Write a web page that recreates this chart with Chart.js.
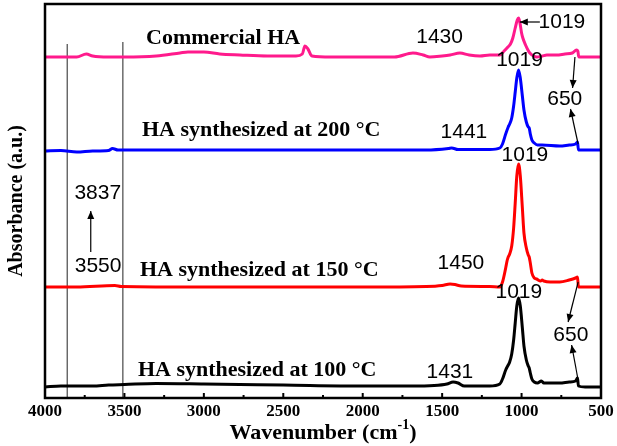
<!DOCTYPE html>
<html>
<head>
<meta charset="utf-8">
<script src="https://cdn.jsdelivr.net/npm/chart.js@4/dist/chart.umd.min.js"></script>
<style>
  html, body { margin: 0; padding: 0; background: #fff; }
  #wrap { width: 617px; height: 446px; }
</style>
</head>
<body>
<div id="wrap"><canvas id="ftirChart" width="617" height="446"></canvas></div>
<script>
// FTIR spectra, [wavenumber cm-1, absorbance a.u. (offset stacked)]
const ha100 = [
  [4000, 11], [3900, 12], [3800, 12], [3700, 12], [3600, 13], [3500, 13.5], [3300, 14.5],
  [3000, 14], [2500, 13], [2000, 12], [1700, 12], [1550, 12.5], [1470, 14], [1431, 16],
  [1400, 15], [1360, 12], [1200, 12], [1137, 14], [1120, 19], [1100, 28], [1084, 33],
  [1075, 36], [1062, 44], [1050, 58], [1040, 75], [1030, 92], [1019, 100], [1008, 92],
  [995, 70], [985, 52], [970, 38], [958, 32], [952, 30], [945, 25], [935, 19], [920, 16],
  [900, 15], [875, 17], [860, 15], [760, 15], [700, 16], [660, 17], [648, 20], [642, 12],
  [600, 11], [500, 11]
];
const ha150 = [
  [4000, 111], [3800, 111], [3560, 112.5], [3520, 111.5], [3000, 111], [2500, 111],
  [2000, 111], [1600, 111.5], [1500, 112.5], [1450, 114], [1420, 113.5], [1380, 112],
  [1200, 111.5], [1137, 111], [1120, 116], [1100, 130], [1090, 138], [1084, 141],
  [1075, 144], [1062, 152], [1050, 170], [1040, 195], [1030, 222], [1019, 234],
  [1008, 222], [995, 190], [985, 165], [970, 150], [958, 143], [952, 141], [945, 135],
  [935, 125], [920, 120], [905, 119], [880, 117], [870, 118], [860, 117], [820, 116],
  [760, 116], [700, 118], [660, 120], [648, 121], [642, 111], [500, 111]
];
const ha200 = [
  [4000, 247], [3900, 247.5], [3800, 246], [3700, 247], [3600, 247.5], [3575, 249.5],
  [3540, 248], [3000, 248], [2500, 248], [2000, 248], [1600, 248], [1460, 249.5],
  [1440, 250], [1400, 248.5], [1200, 248.5], [1137, 250], [1120, 254], [1100, 264],
  [1084, 271], [1075, 274], [1062, 280], [1050, 292], [1040, 306], [1030, 320],
  [1019, 328], [1008, 320], [995, 302], [985, 288], [970, 276], [958, 271], [952, 270],
  [945, 264], [935, 258], [920, 255], [900, 253], [870, 253], [760, 252], [700, 253],
  [660, 254], [648, 256], [642, 248], [500, 248]
];
const commercialHA = [
  [4000, 341], [3900, 341], [3800, 341], [3740, 344], [3700, 342], [3600, 341],
  [3500, 341], [3300, 342], [3150, 345], [3100, 346], [3000, 346], [2900, 344],
  [2773, 343], [2600, 342], [2420, 342], [2380, 344], [2364, 352], [2345, 349],
  [2320, 342], [2200, 341], [2000, 341], [1800, 341], [1684, 345], [1620, 343],
  [1577, 341], [1500, 342], [1450, 343], [1388, 345], [1330, 343], [1262, 342],
  [1200, 343], [1137, 343], [1110, 347], [1086, 351], [1070, 354], [1055, 360],
  [1040, 370], [1027, 378], [1019, 380], [1010, 375], [1000, 365], [992, 360],
  [975, 353], [960, 348], [948, 345], [925, 342], [904, 341], [870, 342], [841, 343],
  [780, 343], [727, 344], [680, 345], [654, 348], [646, 347], [640, 341], [500, 341]
];

const seriesNames  = ['HA synthesized at 100 °C', 'HA synthesized at 150 °C', 'HA synthesized at 200 °C', 'Commercial HA'];
const seriesData   = [ha100, ha150, ha200, commercialHA];
const seriesColors = ['#000000', '#ff0000', '#0000ff', '#ff1a8c'];

const xTicks = [4000, 3500, 3000, 2500, 2000, 1500, 1000, 500];
const refLines = [3860, 3510];   // OH band markers

// annotations: [text, wavenumber, absorbance]
const curveLabels = [
  ['Commercial HA', 3364, 360],
  ['HA synthesized at 200 °C', 3390, 268],
  ['HA synthesized at 150 °C', 3402, 128],
  ['HA synthesized at 100 °C', 3415, 28]
];
const peakLabels = [
  ['3837', 3668, 205], ['3550', 3666, 132],
  ['1430', 1516, 361], ['1019', 746, 376], ['1019', 1013, 338], ['650', 728, 299],
  ['1441', 1363, 266], ['1019', 979, 243],
  ['1450', 1382, 135], ['1019', 1017, 106], ['650', 690, 63],
  ['1431', 1451, 26]
];
// arrows: [fromWn, fromAbs, toWn, toAbs] head at "to"
const arrows = [
  [3712, 146, 3712, 187],
  [885, 376, 1011, 376],
  [664, 341, 679, 310],
  [644, 254, 692, 289],
  [644, 116, 707, 76],
  [644, 18, 685, 53]
];

const SERIF = '"Liberation Serif", "Times New Roman", serif';
const SANS  = '"Liberation Sans", Arial, sans-serif';

const decorPlugin = {
  id: 'decor',
  beforeDatasetsDraw(chart) {
    const { ctx, chartArea: a, scales: { x, y } } = chart;
    ctx.save();
    ctx.strokeStyle = '#555';
    ctx.lineWidth = 1.3;
    refLines.forEach((wn, i) => {
      const px = x.getPixelForValue(wn);
      ctx.beginPath();
      ctx.moveTo(px, y.getPixelForValue(i === 0 ? 354 : 356));
      ctx.lineTo(px, a.bottom);
      ctx.stroke();
    });
    ctx.restore();
  },
  afterDatasetsDraw(chart) {
    const { ctx, chartArea: a, scales: { x, y } } = chart;
    ctx.save();

    // frame
    ctx.strokeStyle = '#000';
    ctx.lineWidth = 2.5;
    ctx.strokeRect(a.left, a.top, a.right - a.left, a.bottom - a.top);

    // inward ticks on bottom axis
    ctx.lineWidth = 2;
    for (let wn = 500; wn <= 4000; wn += 250) {
      const px = x.getPixelForValue(wn);
      const len = wn % 500 === 0 ? 5 : 3;
      ctx.beginPath();
      ctx.moveTo(px, a.bottom);
      ctx.lineTo(px, a.bottom - len);
      ctx.stroke();
    }

    // tick labels
    ctx.fillStyle = '#000';
    ctx.textBaseline = 'middle';
    ctx.textAlign = 'center';
    ctx.font = 'bold 17px ' + SERIF;
    xTicks.forEach(v => ctx.fillText(String(v), x.getPixelForValue(v), a.bottom + 14));

    // curve labels
    ctx.textAlign = 'left';
    ctx.font = 'bold 22px ' + SERIF;
    curveLabels.forEach(([t, wn, v]) => ctx.fillText(t, x.getPixelForValue(wn), y.getPixelForValue(v)));

    // peak labels
    ctx.textAlign = 'center';
    ctx.font = '21px ' + SANS;
    peakLabels.forEach(([t, wn, v]) => ctx.fillText(t, x.getPixelForValue(wn), y.getPixelForValue(v)));

    // arrows
    ctx.strokeStyle = '#000';
    ctx.lineWidth = 1.2;
    arrows.forEach(([w1, v1, w2, v2]) => {
      const x1 = x.getPixelForValue(w1), y1 = y.getPixelForValue(v1);
      const x2 = x.getPixelForValue(w2), y2 = y.getPixelForValue(v2);
      const ang = Math.atan2(y2 - y1, x2 - x1);
      ctx.beginPath();
      ctx.moveTo(x1, y1);
      ctx.lineTo(x2, y2);
      ctx.stroke();
      ctx.beginPath();
      ctx.moveTo(x2, y2);
      ctx.lineTo(x2 - 8 * Math.cos(ang) + 3.5 * Math.sin(ang), y2 - 8 * Math.sin(ang) - 3.5 * Math.cos(ang));
      ctx.lineTo(x2 - 8 * Math.cos(ang) - 3.5 * Math.sin(ang), y2 - 8 * Math.sin(ang) + 3.5 * Math.cos(ang));
      ctx.closePath();
      ctx.fill();
    });

    // x axis title with superscript
    const main = 'Wavenumber (cm', sup = '-1', tail = ')';
    ctx.font = 'bold 22px ' + SERIF;
    const w1 = ctx.measureText(main).width, w3 = ctx.measureText(tail).width;
    ctx.font = 'bold 14px ' + SERIF;
    const w2 = ctx.measureText(sup).width;
    const tx = (a.left + a.right) / 2 - (w1 + w2 + w3) / 2;
    const ty = 433;
    ctx.textAlign = 'left';
    ctx.font = 'bold 22px ' + SERIF;
    ctx.fillText(main, tx, ty);
    ctx.font = 'bold 14px ' + SERIF;
    ctx.fillText(sup, tx + w1, ty - 8);
    ctx.font = 'bold 22px ' + SERIF;
    ctx.fillText(tail, tx + w1 + w2, ty);

    ctx.restore();
  }
};

new Chart(document.getElementById('ftirChart'), {
  type: 'line',
  data: {
    datasets: seriesData.map((d, i) => ({
      label: seriesNames[i],
      data: d.map(([wn, v]) => ({ x: wn, y: v })),
      borderColor: seriesColors[i],
      borderWidth: 3,
      pointRadius: 0,
      fill: false,
      cubicInterpolationMode: 'monotone',
    })),
  },
  options: {
    responsive: false,
    animation: false,
    layout: { padding: { top: 4, right: 16, left: 0, bottom: 0 } },
    plugins: { legend: { display: false }, tooltip: { enabled: false } },
    scales: {
      x: {
        type: 'linear',
        reverse: true,
        min: 500,
        max: 4000,
        afterFit: s => { s.height = 48; },
        ticks: { display: false },
        grid: { display: false },
        border: { display: false },
      },
      y: {
        min: 0,
        max: 394,
        afterFit: s => { s.width = 45; },
        ticks: { display: false },
        grid: { display: false },
        border: { display: false },
        title: {
          display: true,
          text: 'Absorbance (a.u.)',
          color: '#000',
          font: { family: SERIF, size: 20, weight: 'bold' },
          padding: { top: 5, bottom: 0 },
        },
      },
    },
  },
  plugins: [decorPlugin],
});
</script>
</body>
</html>
